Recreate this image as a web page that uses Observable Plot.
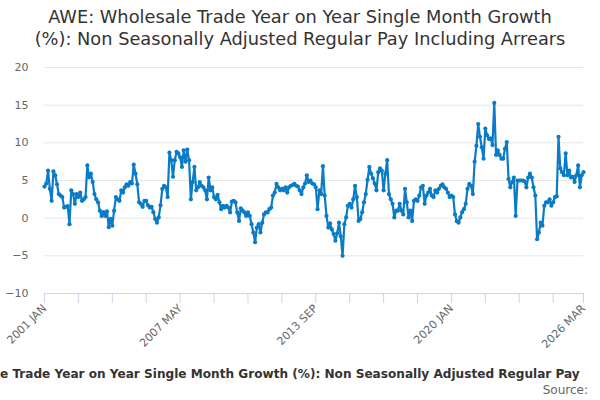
<!DOCTYPE html>
<html><head><meta charset="utf-8">
<script src="https://cdn.jsdelivr.net/npm/d3@7"></script>
<script src="https://cdn.jsdelivr.net/npm/@observablehq/plot@0.6"></script>
<style>
body{margin:0;background:#fff;font-family:"DejaVu Sans",sans-serif;}
#wrap{width:600px;height:400px;position:relative;overflow:hidden;background:#fff;}
#title{position:absolute;top:6px;left:0;width:600px;text-align:center;font-size:17.8px;line-height:22px;color:#333;}
#chart{position:absolute;top:56px;left:0;}
#caption{position:absolute;top:366px;left:0;white-space:nowrap;font-size:12.1px;line-height:16px;font-weight:bold;color:#333;}
#source{position:absolute;top:383px;right:12px;font-size:12px;line-height:15px;color:#666;}
</style></head><body>
<div id="wrap">
<div id="title">AWE: Wholesale Trade Year on Year Single Month Growth<br>(%): Non Seasonally Adjusted Regular Pay Including Arrears</div>
<div id="chart"></div>
<div id="caption">e Trade Year on Year Single Month Growth (%): Non Seasonally Adjusted Regular Pay</div>
<div id="source">Source:</div>
</div>
<script>
// Monthly series, starting 2001 JAN
const startYear = 2001;
const monthNames = ["JAN","FEB","MAR","APR","MAY","JUN","JUL","AUG","SEP","OCT","NOV","DEC"];
const values = [
  4.2, 4.6, 6.3, 3.9, 2.3, 6.2, 5.7, 4.5, 3.2, 3.0,
  2.8, 1.4, 1.5, 1.6, -0.8, 3.7, 3.2, 1.9, 3.2, 2.8,
  3.4, 2.3, 2.5, 2.8, 7.0, 5.4, 5.9, 4.8, 3.2, 2.5,
  2.1, 1.0, 0.3, 0.8, 0.3, 0.9, -1.2, -0.1, -1.0, 1.0,
  2.8, 2.5, 2.3, 3.7, 3.4, 4.1, 4.5, 4.3, 4.8, 4.6,
  7.1, 5.9, 4.5, 2.1, 1.9, 1.5, 2.3, 2.3, 1.7, 1.4,
  1.5, 0.8, -0.1, -0.6, 0.1, 1.7, 3.9, 4.3, 4.1, 2.8,
  8.7, 7.7, 5.5, 7.7, 8.8, 8.6, 8.1, 6.8, 9.0, 7.5,
  9.1, 7.7, 2.5, 4.8, 6.8, 3.7, 4.1, 4.8, 4.3, 4.1,
  3.7, 2.5, 5.4, 3.7, 4.1, 2.8, 2.5, 3.1, 2.1, 1.2,
  1.65, 1.4, 1.65, 1.4, 0.76, 2.2, 2.3, 2.1, 0.76, -0.36,
  1.3, 1.0, 0.76, 0.3, 0.76, 0.3, -0.8, -1.9, -3.2, -1.25,
  -0.8, -1.9, -0.6, 0.5, 0.76, 0.76, 1.2, 1.4, 3.0, 3.4,
  4.55, 4.1, 3.7, 3.9, 3.7, 4.1, 3.4, 4.1, 4.3, 4.4,
  4.55, 4.3, 4.2, 3.7, 3.2, 4.1, 4.6, 5.7, 4.8, 5.0,
  4.6, 4.5, 4.1, 1.2, 3.7, 3.2, 6.9, 3.0, 0.3, -1.25,
  -0.7, -1.5, -2.1, -3.0, -2.0, -0.6, -2.4, -5.0, -0.8, 0.1,
  1.65, 1.9, 1.4, 2.5, 4.3, 2.8, -0.36, -0.1, 0.8, 2.1,
  3.2, 5.1, 6.8, 5.9, 5.3, 4.6, 3.7, 6.1, 6.6, 6.3,
  3.7, 5.9, 7.7, 3.2, 2.5, 1.9, 0.1, 1.0, 1.0, 1.9,
  1.0, 0.5, 3.9, 2.1, 0.1, 1.0, -0.36, 2.3, 2.5, 2.3,
  3.0, 4.1, 4.3, 1.9, 3.0, 3.4, 3.9, 3.0, 2.8, 3.7,
  3.4, 3.9, 4.3, 4.5, 4.1, 3.9, 3.4, 2.8, 3.0, 2.8,
  0.5, -0.4, -0.6, 0.1, 0.8, 1.2, 1.9, 3.9, 4.55, 4.3,
  3.2, 7.5, 9.6, 12.5, 10.8, 9.4, 7.9, 11.9, 11.0, 10.5,
  10.6, 9.7, 15.3, 8.4, 9.0, 8.4, 7.9, 7.9, 9.2, 10.1,
  5.2, 4.1, 4.8, 5.4, 0.3, 5.0, 5.0, 5.0, 5.0, 4.9,
  4.1, 5.4, 5.9, 5.4, 4.1, 3.0, -2.8, -1.9, -0.6, -1.0,
  1.65, 2.1, 2.1, 2.5, 1.65, 2.1, 2.8, 2.9, 10.8, 6.6,
  6.1, 5.7, 8.6, 5.7, 6.3, 5.4, 5.5, 4.8, 5.7, 7.0,
  4.1, 5.7, 6.1
];
const yTicks = [-10, -5, 0, 5, 10, 15, 20];
const xTickLabels = ["2001 JAN", "2007 MAY", "2013 SEP", "2020 JAN", "2026 MAR"];
const xTickStep = 19;

const lineColor = "#0a7bc6";
const data = values.map((v, i) => ({i, v}));
const last = values.length - 1;
const monthLabel = i => `${startYear + Math.floor(i / 12)} ${monthNames[i % 12]}`;
const xTicks = d3.range(0, last, xTickStep).concat([last]);

const chart = Plot.plot({
  width: 600,
  height: 290,
  marginTop: 11,
  marginBottom: 53,
  marginLeft: 44,
  marginRight: 17,
  style: {fontFamily: "'DejaVu Sans', sans-serif", fontSize: "11px", color: "#666", background: "#fff", overflow: "visible"},
  x: {domain: [0, last], axis: null},
  y: {domain: [-10, 20], axis: null},
  marks: [
    Plot.gridY(yTicks, {stroke: "#e6e6e6", strokeOpacity: 1}),
    Plot.axisY(yTicks, {tickSize: 0, tickPadding: 16, label: null, fill: "#666"}),
    Plot.ruleY([-10], {stroke: "#ccd6eb"}),
    Plot.axisX(xTicks, {
      tickSize: 10, tickPadding: 3, tickRotate: -45, label: null,
      stroke: "#ccd6eb", strokeOpacity: 1, fill: "#666",
      tickFormat: i => xTickLabels.includes(monthLabel(i)) ? monthLabel(i) : ""
    }),
    Plot.line(data, {x: "i", y: "v", stroke: lineColor, strokeWidth: 2.2}),
    Plot.dot(data, {x: "i", y: "v", r: 2.1, fill: lineColor})
  ]
});
document.getElementById("chart").appendChild(chart);
</script>
</body></html>
